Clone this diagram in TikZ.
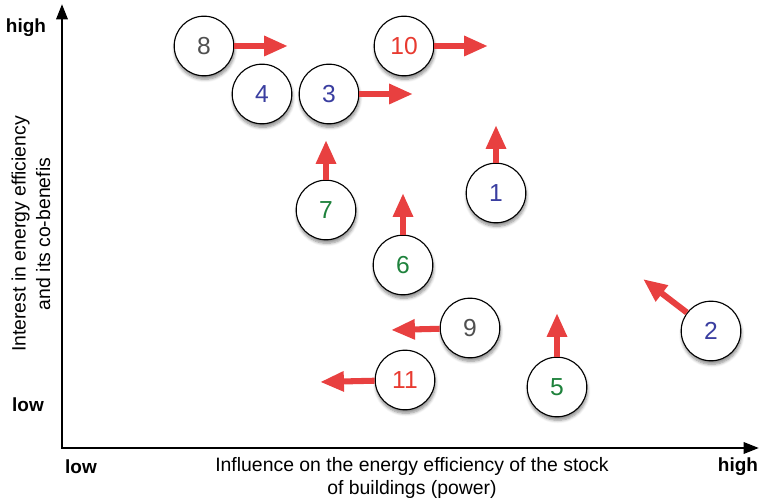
\documentclass[tikz,border=0pt]{standalone}
\usepackage{fontspec}
\setmainfont{Liberation Sans}
\usetikzlibrary{arrows.meta,shadows.blur}
\definecolor{pushred}{RGB}{232,64,64}
\definecolor{numblue}{RGB}{58,62,160}
\definecolor{numgreen}{RGB}{30,130,60}
\definecolor{numgray}{RGB}{80,80,80}
\definecolor{numred}{RGB}{232,58,48}

\begin{document}
\begin{tikzpicture}[x=0.025cm, y=-0.025cm,
  stake/.style={circle, draw, line width=0.8pt, fill=white, minimum size=1.49cm, inner sep=0pt,
    font=\fontsize{17.5}{20}\selectfont, blur shadow={shadow xshift=0.5pt, shadow yshift=-2.5pt, shadow blur steps=6, shadow opacity=45}},
  push/.style={pushred, line width=4.3pt, -{Triangle[length=17pt, width=13.5pt]}},
  axisline/.style={line width=2pt, {Triangle[length=11pt, width=8pt]}-{Triangle[length=11pt, width=8pt]}},
  level/.style={font=\bfseries\fontsize{13.5}{16}\selectfont},
  title/.style={align=center, font=\fontsize{13.8}{16}\selectfont}]
\useasboundingbox (0,0) rectangle (760,503);
% axes
\coordinate (origin) at (62,448);
\coordinate (ytop) at (62,4);
\coordinate (xend) at (759,448);
\draw[axisline] (ytop) -- (origin) -- (xend);
\node[level] (yhigh) at (26,28) {high};
\node[level] (ylow) at (28,405) {low};
\node[level] (xlow) at (81,467) {low};
\node[level] (xhigh) at (738,467) {high};
\node[title, rotate=90, font=\fontsize{13.8}{17.5}\selectfont] (ytitle) at (31,234) {Interest in energy efficiency\\and its co-benefis};
\node[title] (xtitle) at (412,478) {Influence on the energy efficiency of the stock\\of buildings (power)};
% stakeholders
\node[stake, text=numgray] (n8) at (204,46) {8};
\node[stake, text=numred] (n10) at (404,46) {10};
\node[stake, text=numblue] (n4) at (262,94) {4};
\node[stake, text=numblue] (n3) at (329,94) {3};
\node[stake, text=numgreen] (n7) at (326,210) {7};
\node[stake, text=numblue] (n1) at (496,193) {1};
\node[stake, text=numgreen] (n6) at (403,265) {6};
\node[stake, text=numgray] (n9) at (470,328) {9};
\node[stake, text=numblue] (n2) at (711,331) {2};
\node[stake, text=numred] (n11) at (405,380) {11};
\node[stake, text=numgreen] (n5) at (557,387) {5};
% where they move
\coordinate (t8) at (288,46);
\coordinate (t10) at (488,46);
\coordinate (t3) at (413,94);
\coordinate (t7) at (326,140);
\coordinate (t1) at (496,125);
\coordinate (t6) at (403,193);
\coordinate (t9) at (391,330);
\coordinate (t2) at (643,279);
\coordinate (t11) at (320,382);
\coordinate (t5) at (557,313);
\foreach \s in {8,10,3,7,1,6,9,2,11,5}
  \draw[push] (n\s) -- (t\s);
\end{tikzpicture}
\end{document}
